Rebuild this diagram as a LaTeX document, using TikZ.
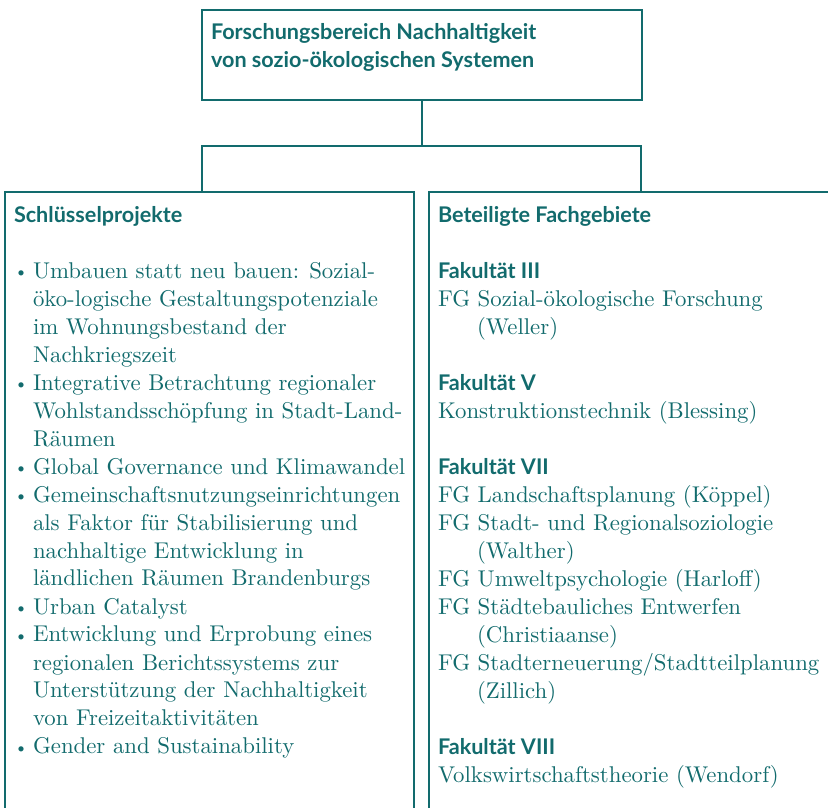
\documentclass[tikz,border=0pt]{standalone}
\usepackage{fontspec}
\setmainfont{lmroman10-regular}[Extension=.otf, BoldFont=lmroman10-bold]
\newfontfamily\hsans{Lato}
\definecolor{tealc}{HTML}{126B6D}
\newcommand\bl{\makebox[19pt][l]{\hspace*{0pt}\raisebox{0.8pt}{\fontsize{18}{18}\selectfont\textbullet}}}
\newcommand\ind{\hspace*{19pt}}
\newcommand\indb{\hspace*{39pt}}
\newcommand\hd[1]{{\hsans\bfseries\fontsize{21.6}{28}\selectfont #1}}
\tikzset{
  frame/.style={draw=tealc, line width=2pt, rectangle, inner sep=0pt, outer sep=0pt},
  conn/.style={draw=tealc, line width=2pt},
  txt/.style={inner sep=0pt, outer sep=0pt, anchor=base west, text=tealc, align=left,
    font=\fontsize{22.8}{28}\selectfont},
}
\begin{document}
\begin{tikzpicture}[x=1pt,y=-1pt]
\clip (0,0) rectangle (828,808);
% boxes
\node[frame, anchor=north west, minimum width=440pt, minimum height=90pt] (top) at (202,10) {};
\node[frame, anchor=north west, minimum width=409pt, minimum height=640pt] (left) at (5,192) {};
\node[frame, anchor=north west, minimum width=420pt, minimum height=640pt] (right) at (429,192) {};
% connectors
\coordinate (hl) at (202,146);
\coordinate (hr) at (641,146);
\draw[conn] (top.south) -- (top.south |- hl);
\draw[conn] (left.north -| hl) -- (hl) -- (hr) -- (right.north -| hr);
% title
\node[txt] (title) at (211,40) {\parbox[t]{420pt}{\raggedright
  \hd{Forschungsbereich Nachhaltigkeit}\\
  \hd{von sozio-ökologischen Systemen}}};
% left column
\node[txt] (lhead) at (14,222) {\hd{Schlüsselprojekte}};
\node[txt] (list) at (14,278) {\parbox[t]{395pt}{\raggedright\hyphenpenalty=10000
\bl Umbauen statt neu bauen: Sozial-\\
\ind öko-logische Gestaltungspotenziale\\
\ind im Wohnungsbestand der\\
\ind Nachkriegszeit\\
\bl Integrative Betrachtung regionaler\\
\ind Wohlstandsschöpfung in Stadt-Land-\\
\ind Räumen\\
\bl Global Governance und Klimawandel\\
\bl Gemeinschaftsnutzungseinrichtungen\\
\ind als Faktor für Stabilisierung und\\
\ind nachhaltige Entwicklung in\\
\ind ländlichen Räumen Brandenburgs\\
\bl Urban Catalyst\\
\bl Entwicklung und Erprobung eines\\
\ind regionalen Berichtssystems zur\\
\ind Unterstützung der Nachhaltigkeit\\
\ind von Freizeitaktivitäten\\
\bl Gender and Sustainability}};
% right column
\node[txt] (rhead) at (438,222) {\hd{Beteiligte Fachgebiete}};
\node[txt] (f3) at (438,278) {\parbox[t]{385pt}{\raggedright\hyphenpenalty=10000
\hd{Fakultät III}\\
FG Sozial-ökologische Forschung\\
\indb(Weller)}};
\node[txt] (f5) at (438,390) {\parbox[t]{385pt}{\raggedright\hyphenpenalty=10000
\hd{Fakultät V}\\
Konstruktionstechnik (Blessing)}};
\node[txt] (f7) at (438,474) {\parbox[t]{385pt}{\raggedright\hyphenpenalty=10000
\hd{Fakultät VII}\\
FG Landschaftsplanung (Köppel)\\
FG Stadt- und Regionalsoziologie\\
\indb(Walther)\\
FG Umweltpsychologie (Harloff)\\
FG Städtebauliches Entwerfen\\
\indb(Christiaanse)\\
FG Stadterneuerung/Stadtteilplanung\\
\indb(Zillich)}};
\node[txt] (f8) at (438,754) {\parbox[t]{385pt}{\raggedright\hyphenpenalty=10000
\hd{Fakultät VIII}\\
Volkswirtschaftstheorie (Wendorf)}};
\end{tikzpicture}
\end{document}
